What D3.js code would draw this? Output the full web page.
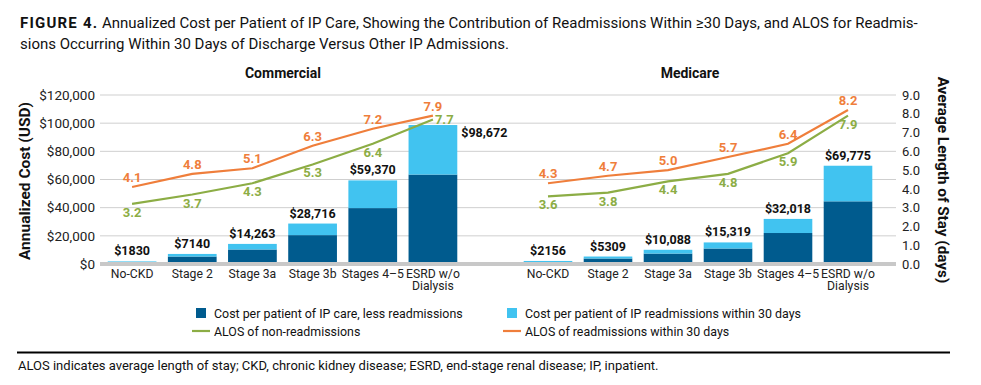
<!DOCTYPE html>
<html>
<head>
<meta charset="utf-8">
<script src="https://cdn.jsdelivr.net/npm/d3@7"></script>
<style>
  body { margin: 0; background: #fff; }
  svg { display: block; font-family: Roboto, "DejaVu Sans", sans-serif; }
</style>
</head>
<body>
<div id="chart"></div>
<script>
// Categories and values
const categories = ['No-CKD', 'Stage 2', 'Stage 3a', 'Stage 3b', 'Stages 4–5', 'ESRD w/o Dialysis'];

const commercialTotal = [1830, 7140, 14263, 28716, 59370, 98672];
const commercialBase = [1200, 5300, 10300, 20500, 39700, 63500];
const commercialAlosReadmit = [4.1, 4.8, 5.1, 6.3, 7.2, 7.9];
const commercialAlosNon = [3.2, 3.7, 4.3, 5.3, 6.4, 7.7];

const medicareTotal = [2156, 5309, 10088, 15319, 32018, 69775];
const medicareBase = [1400, 3900, 7400, 11000, 22000, 44500];
const medicareAlosReadmit = [4.3, 4.7, 5.0, 5.7, 6.4, 8.2];
const medicareAlosNon = [3.6, 3.8, 4.4, 4.8, 5.9, 7.9];

const costTicks = [0, 20000, 40000, 60000, 80000, 100000, 120000];
const losTicks = [0, 1, 2, 3, 4, 5, 6, 7, 8, 9];

const colors = {
    base: '#005b8e',
    readmit: '#41c3f0',
    alosNon: '#8cad45',
    alosReadmit: '#ef7e3b',
    grid: '#cfcfcf'
};

const width = 981;
const height = 385;

const svg = d3.select('#chart')
    .append('svg')
    .attr('width', width)
    .attr('height', height);

// Title
const title = svg.append('text')
    .attr('x', 20)
    .attr('y', 28)
    .attr('font-size', '15px')
    .attr('fill', '#111');
title.append('tspan')
    .attr('font-weight', 'bold')
    .attr('letter-spacing', '1.2px')
    .text('FIGURE 4.');
title.append('tspan')
    .text(' Annualized Cost per Patient of IP Care, Showing the Contribution of Readmissions Within ≥30 Days, and ALOS for Readmis-');
svg.append('text')
    .attr('x', 20)
    .attr('y', 49)
    .attr('font-size', '15px')
    .attr('fill', '#111')
    .text('sions Occurring Within 30 Days of Discharge Versus Other IP Admissions.');

// Scales
const plotLeft = 100;
const plotRight = 896;
const y = d3.scaleLinear().domain([0, 120000]).range([264, 95]);
const y2 = d3.scaleLinear().domain([0, 9]).range([264, 95]);

const panels = [
    {
        name: 'Commercial',
        titleX: 283,
        x: d3.scaleBand().domain(categories).range([102, 463]).paddingInner(0.19).paddingOuter(0.095),
        total: commercialTotal,
        base: commercialBase,
        readmit: commercialAlosReadmit,
        non: commercialAlosNon
    },
    {
        name: 'Medicare',
        titleX: 690,
        x: d3.scaleBand().domain(categories).range([518, 878]).paddingInner(0.19).paddingOuter(0.095),
        total: medicareTotal,
        base: medicareBase,
        readmit: medicareAlosReadmit,
        non: medicareAlosNon
    }
];

// Gridlines
svg.append('g')
    .selectAll('line')
    .data(costTicks.slice(1))
    .join('line')
    .attr('x1', plotLeft)
    .attr('x2', plotRight)
    .attr('y1', (d) => y(d))
    .attr('y2', (d) => y(d))
    .attr('stroke', colors.grid)
    .attr('stroke-width', 1);

// Left axis
const leftAxis = svg.append('g')
    .attr('transform', `translate(${plotLeft - 5},0)`)
    .call(d3.axisLeft(y).tickValues(costTicks).tickSize(0).tickPadding(0)
        .tickFormat((d) => '$' + d3.format(',')(d)));
leftAxis.select('.domain').remove();
leftAxis.selectAll('text')
    .attr('font-size', '13.5px')
    .attr('fill', '#222')
    .attr('font-family', 'Roboto, sans-serif');

// Right axis
const rightAxis = svg.append('g')
    .attr('transform', `translate(${plotRight + 6},0)`)
    .call(d3.axisRight(y2).tickValues(losTicks).tickSize(0).tickPadding(0)
        .tickFormat(d3.format('.1f')));
rightAxis.select('.domain').remove();
rightAxis.selectAll('text')
    .attr('font-size', '13px')
    .attr('fill', '#222')
    .attr('font-family', 'Roboto, sans-serif');

// Axis titles
svg.append('text')
    .attr('transform', 'translate(30,181) rotate(-90)')
    .attr('text-anchor', 'middle')
    .attr('font-size', '15.5px')
    .attr('font-weight', 'bold')
    .attr('fill', '#111')
    .text('Annualized Cost (USD)');
svg.append('text')
    .attr('transform', 'translate(938,180) rotate(90)')
    .attr('text-anchor', 'middle')
    .attr('font-size', '15.3px')
    .attr('font-weight', 'bold')
    .attr('fill', '#111')
    .text('Average Length of Stay (days)');

panels.forEach((panel, panelIndex) => {
    const g = svg.append('g');
    const x = panel.x;
    const bw = x.bandwidth();

    g.append('text')
        .attr('x', panel.titleX)
        .attr('y', 78)
        .attr('text-anchor', 'middle')
        .attr('font-size', '14px')
        .attr('font-weight', 'bold')
        .attr('fill', '#111')
        .text(panel.name);

    // Stacked bars
    g.selectAll('rect.base')
        .data(categories)
        .join('rect')
        .attr('class', 'base')
        .attr('x', (d) => x(d))
        .attr('width', bw)
        .attr('y', (d, i) => y(panel.base[i]))
        .attr('height', (d, i) => y(0) - y(panel.base[i]))
        .attr('fill', colors.base);

    g.selectAll('rect.readmit')
        .data(categories)
        .join('rect')
        .attr('class', 'readmit')
        .attr('x', (d) => x(d))
        .attr('width', bw)
        .attr('y', (d, i) => y(panel.total[i]))
        .attr('height', (d, i) => y(panel.base[i]) - y(panel.total[i]))
        .attr('fill', colors.readmit);

    // Bar labels
    g.selectAll('text.total')
        .data(categories)
        .join('text')
        .attr('class', 'total')
        .attr('x', (d, i) => (panelIndex === 0 && i === 5) ? x(d) + bw + 4 : x(d) + bw / 2)
        .attr('y', (d, i) => (panelIndex === 0 && i === 5) ? y(panel.total[i]) + 12 : y(panel.total[i]) - 6)
        .attr('text-anchor', (d, i) => (panelIndex === 0 && i === 5) ? 'start' : 'middle')
        .attr('font-size', '12.5px')
        .attr('font-weight', 'bold')
        .attr('fill', '#111')
        .text((d, i) => {
            const v = panel.total[i];
            return '$' + (v < 10000 ? String(v) : d3.format(',')(v));
        });

    // Category labels
    const xAxis = g.append('g')
        .attr('transform', `translate(0,${y(0) + 5})`)
        .call(d3.axisBottom(x).tickSize(0).tickPadding(0));
    xAxis.select('.domain').remove();
    xAxis.selectAll('text')
        .attr('font-size', '12.2px')
        .attr('fill', '#222')
        .attr('font-family', 'Roboto, sans-serif')
        .each(function (d) {
            const t = d3.select(this);
            if (d === 'ESRD w/o Dialysis') {
                t.text('');
                t.append('tspan').attr('x', 0).attr('dy', '0.71em').text('ESRD w/o');
                t.append('tspan').attr('x', 0).attr('dy', '1.05em').text('Dialysis');
                t.attr('dy', null);
            }
        });

    // ALOS lines
    const line = d3.line()
        .x((d, i) => x(categories[i]) + bw / 2)
        .y((d) => y2(d));

    g.append('path')
        .datum(panel.non)
        .attr('d', line)
        .attr('fill', 'none')
        .attr('stroke', colors.alosNon)
        .attr('stroke-width', 2.2);

    g.append('path')
        .datum(panel.readmit)
        .attr('d', line)
        .attr('fill', 'none')
        .attr('stroke', colors.alosReadmit)
        .attr('stroke-width', 2.2);

    g.selectAll('text.readmit')
        .data(panel.readmit)
        .join('text')
        .attr('class', 'readmit')
        .attr('x', (d, i) => x(categories[i]) + bw / 2)
        .attr('y', (d) => y2(d) - 5)
        .attr('text-anchor', 'middle')
        .attr('font-size', '13px')
        .attr('font-weight', 'bold')
        .attr('fill', colors.alosReadmit)
        .text((d) => d3.format('.1f')(d));

    g.selectAll('text.non')
        .data(panel.non)
        .join('text')
        .attr('class', 'non')
        .attr('x', (d, i) => (panelIndex === 0 && i === 5) ? x(categories[i]) + bw / 2 + 2 : x(categories[i]) + bw / 2)
        .attr('y', (d, i) => (panelIndex === 0 && i === 5) ? y2(d) + 5 : y2(d) + 13)
        .attr('text-anchor', (d, i) => (panelIndex === 0 && i === 5) ? 'start' : 'middle')
        .attr('font-size', '13px')
        .attr('font-weight', 'bold')
        .attr('fill', colors.alosNon)
        .text((d) => d3.format('.1f')(d));
});

// Baseline drawn over the bars
svg.append('rect')
    .attr('x', plotLeft)
    .attr('y', y(0) - 2)
    .attr('width', plotRight - plotLeft)
    .attr('height', 4)
    .attr('fill', '#c8c8c8');

// Legend
const legendItems = [
    { label: 'Cost per patient of IP care, less readmissions', type: 'rect', color: colors.base, x: 196, y: 313 },
    { label: 'Cost per patient of IP readmissions within 30 days', type: 'rect', color: colors.readmit, x: 507, y: 313 },
    { label: 'ALOS of non-readmissions', type: 'line', color: colors.alosNon, x: 196, y: 331 },
    { label: 'ALOS of readmissions within 30 days', type: 'line', color: colors.alosReadmit, x: 507, y: 331 }
];

const legend = svg.append('g').attr('class', 'legend');
legendItems.forEach((item) => {
    if (item.type === 'rect') {
        legend.append('rect')
            .attr('x', item.x)
            .attr('y', item.y - 5)
            .attr('width', 10)
            .attr('height', 10)
            .attr('fill', item.color);
    } else {
        legend.append('line')
            .attr('x1', item.x - 4)
            .attr('x2', item.x + 14)
            .attr('y1', item.y)
            .attr('y2', item.y)
            .attr('stroke', item.color)
            .attr('stroke-width', 2.2);
    }
    legend.append('text')
        .attr('x', item.x + 18)
        .attr('y', item.y + 4.5)
        .attr('font-size', '12.4px')
        .attr('fill', '#111')
        .text(item.label);
});

// Footnote
svg.append('line')
    .attr('x1', 17)
    .attr('x2', 950)
    .attr('y1', 352.5)
    .attr('y2', 352.5)
    .attr('stroke', '#000')
    .attr('stroke-width', 2);

svg.append('text')
    .attr('x', 18)
    .attr('y', 370)
    .attr('font-size', '13px')
    .attr('fill', '#111')
    .text('ALOS indicates average length of stay; CKD, chronic kidney disease; ESRD, end-stage renal disease; IP, inpatient.');
</script>
</body>
</html>
